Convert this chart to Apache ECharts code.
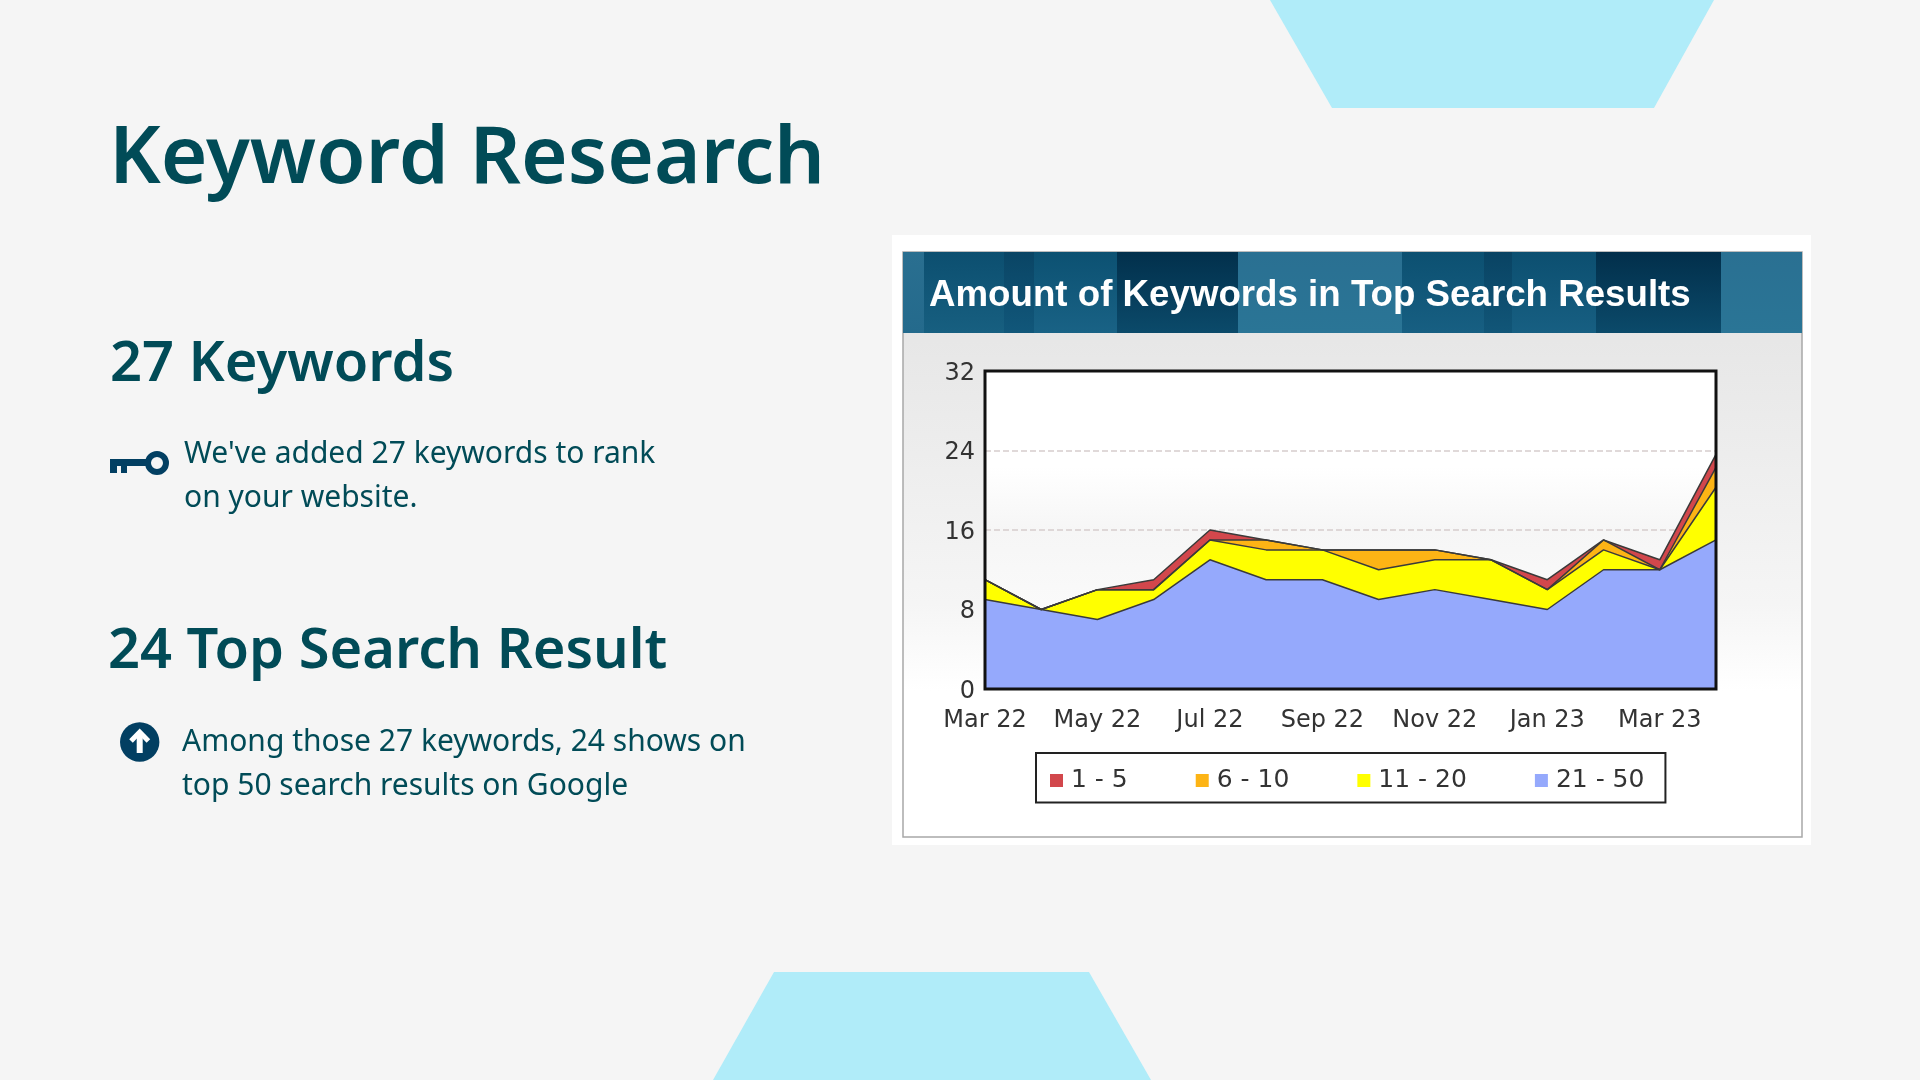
<!DOCTYPE html>
<html>
<head>
<meta charset="utf-8">
<title>Keyword Research</title>
<style>
    html, body { margin: 0; padding: 0; background: #f5f5f5; }
    #main { width: 1920px; height: 1080px; }
</style>
</head>
<body>
<div id="main"></div>
<script src="https://cdn.jsdelivr.net/npm/echarts@6/dist/echarts.min.js"></script>
<script>
    var categories = ['Mar 22', 'Apr 22', 'May 22', 'Jun 22', 'Jul 22', 'Aug 22', 'Sep 22', 'Oct 22', 'Nov 22', 'Dec 22', 'Jan 23', 'Feb 23', 'Mar 23', 'Apr 23'];
    var top1to5 = [0, 0, 0, 1, 1, 0, 0, 0, 0, 0, 1, 0, 1, 1.3];
    var top6to10 = [0, 0, 0, 0, 0, 1, 0, 2, 1, 0, 0, 1, 0, 2];
    var top11to20 = [2, 0, 3, 1, 2, 3, 3, 3, 3, 4, 2, 2, 0, 5.3];
    var top21to50 = [9, 8, 7, 9, 13, 11, 11, 9, 10, 9, 8, 12, 12, 15];
    var seriesNames = ['1 - 5', '6 - 10', '11 - 20', '21 - 50'];
    var yMax = 32;
    var yStep = 8;

    var ink = '#014b57';
    var iconColor = '#023f62';
    var sky = '#b0ecf9';
    var labelFont = '"DejaVu Sans"';
    var slideFont = '"Noto Sans"';

    // plot area on the page
    var plot = {left: 985, top: 371, width: 731, height: 318};

    function slideText(text, x, y, size, weight) {
        return {
            type: 'text',
            z: 5,
            style: {
                text: text,
                x: x,
                y: y,
                fill: ink,
                verticalAlign: 'middle',
                font: weight + ' ' + size + 'px ' + slideFont
            }
        };
    }

    function box(x, y, w, h, fill, z) {
        return {type: 'rect', z: z, shape: {x: x, y: y, width: w, height: h}, style: {fill: fill}};
    }

    function shade(stops) {
        return {type: 'linear', x: 0, y: 0, x2: 0, y2: 1, colorStops: stops};
    }

    // banner stripes
    function bannerStripe(x1, x2, dark, light) {
        return box(x1, 252, x2 - x1, 81, shade([{offset: 0, color: dark}, {offset: 1, color: light}]), -2);
    }

    var elements = [
        // decorations
        {type: 'polygon', z: -5, shape: {points: [[1270, 0], [1714, 0], [1654, 108], [1332, 108]]}, style: {fill: sky}},
        {type: 'polygon', z: -5, shape: {points: [[774, 972], [1089, 972], [1151, 1080], [713, 1080]]}, style: {fill: sky}},

        // left column
        slideText('Keyword Research', 109, 160, 80, 600),
        slideText('27 Keywords', 110, 365, 56, 600),
        slideText('24 Top Search Result', 108, 652, 56, 600),
        slideText("We've added 27 keywords to rank", 184, 454, 30, 400),
        slideText('on your website.', 184, 498, 30, 400),
        slideText('Among those 27 keywords, 24 shows on', 182, 742, 30, 400),
        slideText('top 50 search results on Google', 182, 786, 30, 400),

        // key icon
        {type: 'ring', z: 5, shape: {cx: 157, cy: 463, r: 12, r0: 6}, style: {fill: iconColor}},
        box(110, 459, 38, 7, iconColor, 5),
        box(110, 459, 7, 14, iconColor, 5),
        box(121, 459, 6, 14, iconColor, 5),

        // arrow icon
        {type: 'circle', z: 5, shape: {cx: 139.7, cy: 742, r: 19.7}, style: {fill: iconColor}},
        {type: 'polyline', z: 6, shape: {points: [[139.7, 753], [139.7, 733]]}, style: {stroke: '#fff', lineWidth: 6, fill: null}},
        {type: 'polyline', z: 6, shape: {points: [[131, 741], [139.7, 732], [148.4, 741]]}, style: {stroke: '#fff', lineWidth: 5, fill: null}},

        // picture frame
        box(892, 235, 919, 610, '#ffffff', -4),
        {
            type: 'rect',
            z: -3,
            shape: {x: 903, y: 252, width: 899, height: 585},
            style: {
                fill: shade([{offset: 0, color: '#e0e0e0'}, {offset: 0.12, color: '#e6e6e6'}, {offset: 0.6, color: '#f5f5f5'}, {offset: 0.75, color: '#ffffff'}, {offset: 1, color: '#ffffff'}]),
                stroke: '#a8a8a8',
                lineWidth: 1.5
            }
        },
        bannerStripe(903, 924, '#2a6f90', '#246a8c'),
        bannerStripe(924, 1004, '#0c4f70', '#175f80'),
        bannerStripe(1004, 1034, '#0a4565', '#11577a'),
        bannerStripe(1034, 1117, '#0c5172', '#196285'),
        bannerStripe(1117, 1238, '#02304c', '#0b4a6a'),
        bannerStripe(1238, 1402, '#2a7092', '#2a7596'),
        bannerStripe(1402, 1484, '#0c5071', '#175f82'),
        bannerStripe(1484, 1512, '#094363', '#115678'),
        bannerStripe(1512, 1596, '#0c4f70', '#175f82'),
        bannerStripe(1596, 1721, '#022f4b', '#0b4a6a'),
        bannerStripe(1721, 1802, '#2a7092', '#2a7596'),
        {
            type: 'text',
            z: 5,
            style: {
                text: 'Amount of Keywords in Top Search Results',
                x: 929,
                y: 296,
                fill: '#ffffff',
                verticalAlign: 'middle',
                font: 'bold 36.7px "Liberation Sans"'
            }
        },

        // plot background and frame
        box(plot.left, plot.top, plot.width, plot.height, shade([{offset: 0, color: '#ffffff'}, {offset: 0.3, color: '#ffffff'}, {offset: 0.5, color: '#f6f6f6'}, {offset: 0.8, color: '#fbfbfb'}, {offset: 1, color: '#ffffff'}]), -1),
        {
            type: 'rect',
            z: 10,
            shape: {x: plot.left, y: plot.top, width: plot.width, height: plot.height},
            style: {fill: null, stroke: '#111111', lineWidth: 3}
        }
    ];

    function areaSeries(name, values, color) {
        return {
            name: name,
            type: 'line',
            stack: 'keywords',
            data: values,
            symbol: 'none',
            itemStyle: {color: color},
            lineStyle: {color: '#3a3a3a', width: 1.5},
            areaStyle: {color: color, opacity: 1}
        };
    }

    var option = {
        animation: false,
        backgroundColor: '#f5f5f5',
        graphic: {elements: elements},
        grid: {left: plot.left, top: plot.top, width: plot.width, height: plot.height, containLabel: false},
        xAxis: {
            type: 'category',
            boundaryGap: false,
            data: categories,
            axisLine: {show: false},
            axisTick: {show: false},
            axisLabel: {
                interval: function (index) {
                    return index % 2 === 0;
                },
                margin: 20,
                fontFamily: labelFont,
                fontSize: 24,
                color: '#333333'
            }
        },
        yAxis: {
            type: 'value',
            min: 0,
            max: yMax,
            interval: yStep,
            axisLine: {show: false},
            axisTick: {show: false},
            axisLabel: {
                margin: 10,
                formatter: '{tick|{value}}',
                rich: {
                    tick: {
                        padding: [5, 0, 0, 0],
                        fontFamily: labelFont,
                        fontSize: 24,
                        color: '#333333'
                    }
                }
            },
            splitLine: {lineStyle: {color: '#d6cdcd', type: 'dashed', width: 1.5}}
        },
        legend: {
            left: 1036,
            top: 753,
            orient: 'horizontal',
            data: seriesNames,
            icon: 'rect',
            itemWidth: 13,
            itemHeight: 13,
            itemGap: 68,
            padding: [15, 21, 9.5, 14],
            backgroundColor: '#ffffff',
            borderColor: '#222222',
            borderWidth: 2,
            itemStyle: {borderWidth: 0},
            textStyle: {fontFamily: labelFont, fontSize: 25, color: '#333333', padding: [0, 0, 0, 3]}
        },
        series: [
            areaSeries(seriesNames[3], top21to50, '#95a9fc'),
            areaSeries(seriesNames[2], top11to20, '#ffff00'),
            areaSeries(seriesNames[1], top6to10, '#fdb415'),
            areaSeries(seriesNames[0], top1to5, '#d2474c')
        ]
    };

    var chart = echarts.init(document.getElementById('main'));
    chart.setOption(option);
</script>
</body>
</html>
